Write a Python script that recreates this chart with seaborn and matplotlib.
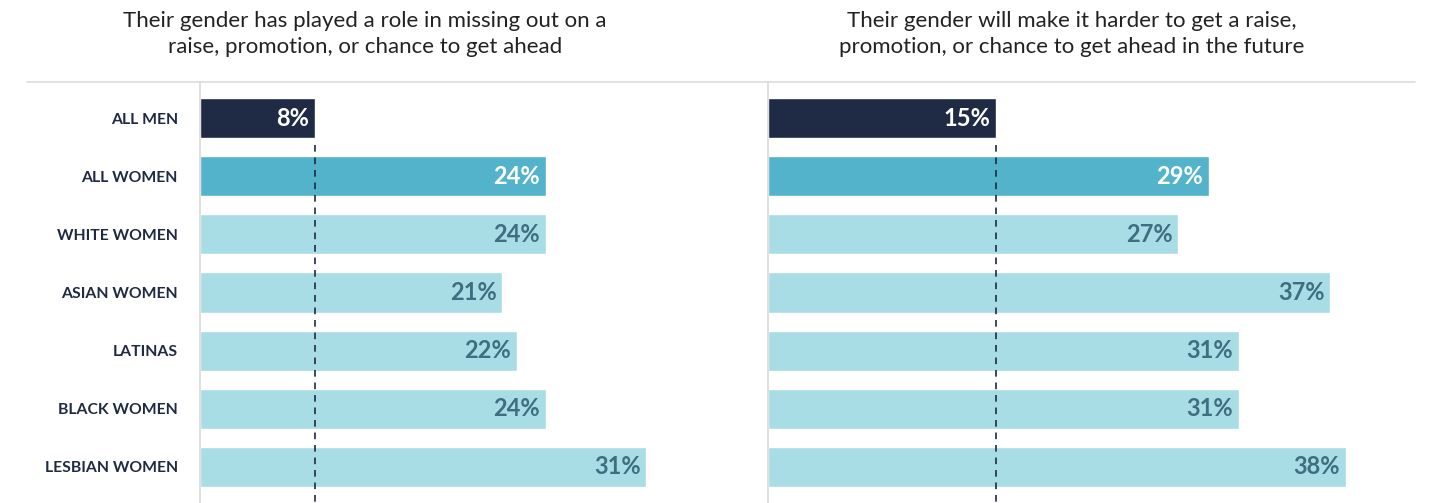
import matplotlib
matplotlib.use("Agg")
import matplotlib.pyplot as plt
from matplotlib.lines import Line2D
import seaborn as sns

# Data
groups = ["ALL MEN", "ALL WOMEN", "WHITE WOMEN", "ASIAN WOMEN",
          "LATINAS", "BLACK WOMEN", "LESBIAN WOMEN"]
missed_out = [8, 24, 24, 21, 22, 24, 31]
harder_future = [15, 29, 27, 37, 31, 31, 38]
titles = ["Their gender has played a role in missing out on a\nraise, promotion, or chance to get ahead",
          "Their gender will make it harder to get a raise,\npromotion, or chance to get ahead in the future"]

navy = "#1f2a44"
bar_colors = [navy, "#52b3cb"] + ["#a9dde6"] * 5
label_colors = ["white", "white"] + ["#3d6f80"] * 5

sns.set_theme(style="white")
plt.rcParams["font.family"] = ["Lato", "DejaVu Sans"]

W, H = 1431, 503
fig = plt.figure(figsize=(W / 100, H / 100), dpi=100)

top_px = 82
panels = [
    (missed_out, 200, 720, 14.4, 365),
    (harder_future, 768, 1415, 15.2, 1072),
]

for i, (vals, x0, x1, scale, title_x) in enumerate(panels):
    ax = fig.add_axes([x0 / W, 0, (x1 - x0) / W, 1 - top_px / H])
    sns.barplot(x=vals, y=groups, hue=groups, palette=bar_colors, legend=False,
                width=0.69, saturation=1, ax=ax, orient="h")
    ax.set_xlim(0, (x1 - x0) / scale)
    ax.set_ylim(6.62, -0.62)
    ax.set_xlabel("")
    ax.set_ylabel("")
    ax.set_xticks([])
    for s in ["top", "right", "bottom"]:
        ax.spines[s].set_visible(False)
    ax.spines["left"].set_color("#d9d9d9")
    ax.spines["left"].set_linewidth(1.2)
    if i == 0:
        ax.tick_params(axis="y", length=0, pad=16)
        for t in ax.get_yticklabels():
            t.set_fontweight("bold")
            t.set_fontsize(11.3)
            t.set_color(navy)
    else:
        ax.set_yticks([])

    # reference line at the men's value
    ax.plot([vals[0], vals[0]], [0.46, 6.62], color=navy, lw=1.2,
            ls=(0, (4, 3.5)), zorder=3)

    for j, v in enumerate(vals):
        ax.text(v - 0.4, j, f"{v}%", ha="right", va="center", zorder=4,
                fontsize=17, fontweight="bold", color=label_colors[j])

    fig.text(title_x / W, 1 - 34 / H, titles[i], ha="center", va="center",
             fontsize=16, color="#222222", linespacing=1.4)

fig.add_artist(Line2D([27 / W, 1415 / W], [1 - top_px / H] * 2,
                      color="#dddddd", lw=1.2))

fig.savefig("out.png", dpi=100)
